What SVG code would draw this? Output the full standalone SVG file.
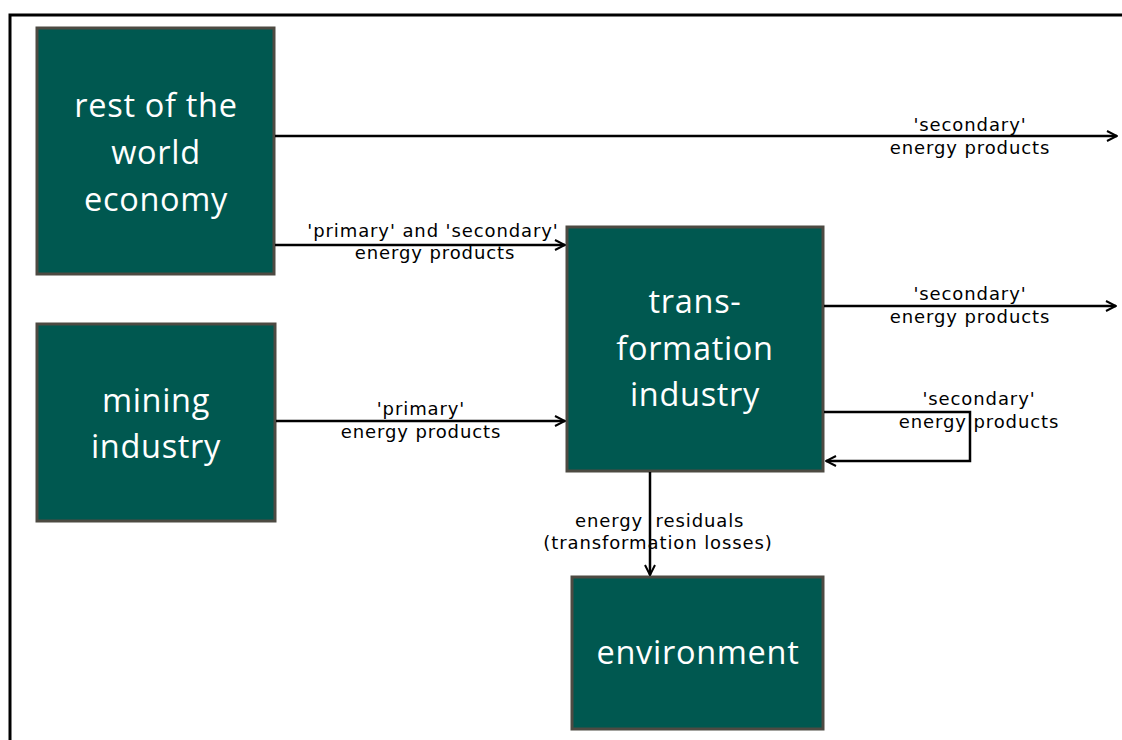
<svg xmlns="http://www.w3.org/2000/svg" width="1122" height="740" viewBox="0 0 1122 740">
<defs>
<style>
.box{fill:#005850;stroke:#4d4a42;stroke-width:3}
.big{font-family:"Open Sans","Liberation Sans",sans-serif;font-size:32.5px;letter-spacing:0.7px;fill:#ffffff;text-anchor:middle}
.lbl{font-family:"DejaVu Sans","Liberation Sans",sans-serif;font-size:18px;letter-spacing:0.9px;fill:#000000;text-anchor:middle}
.con{fill:none;stroke:#000;stroke-width:2.5}
</style>
<marker id="arr" viewBox="0 0 12 12" refX="11" refY="6" markerWidth="12" markerHeight="12" markerUnits="userSpaceOnUse" orient="auto">
<path d="M1,1 L11,6 L1,11" fill="none" stroke="#000" stroke-width="2"/>
</marker>
</defs>
<rect width="1122" height="740" fill="#fff"/>
<path d="M10,740 V15 H1122" fill="none" stroke="#000" stroke-width="3"/>
<g id="node-rest">
<rect class="box" x="37" y="28" width="237" height="246"/>
<text class="big" x="156" y="117">rest of the</text>
<text class="big" x="156" y="164">world</text>
<text class="big" x="156" y="211">economy</text>
</g>
<g id="node-mining">
<rect class="box" x="37" y="324" width="238" height="197"/>
<text class="big" x="156" y="412">mining</text>
<text class="big" x="156" y="458">industry</text>
</g>
<g id="node-transformation">
<rect class="box" x="567" y="227" width="256" height="244"/>
<text class="big" x="695" y="313">trans-</text>
<text class="big" x="695" y="360">formation</text>
<text class="big" x="695" y="406">industry</text>
</g>
<g id="node-environment">
<rect class="box" x="572" y="577" width="251" height="152"/>
<text class="big" x="698" y="664">environment</text>
</g>
<g id="connectors">
<line class="con" x1="275" y1="136" x2="1117" y2="136" marker-end="url(#arr)"/>
<line class="con" x1="275" y1="245" x2="565" y2="245" marker-end="url(#arr)"/>
<line class="con" x1="276" y1="421" x2="565" y2="421" marker-end="url(#arr)"/>
<line class="con" x1="824" y1="306" x2="1116" y2="306" marker-end="url(#arr)"/>
<polyline class="con" points="824,412 970,412 970,461 826,461" marker-end="url(#arr)"/>
<line class="con" x1="650" y1="472" x2="650" y2="575" marker-end="url(#arr)"/>
<text class="lbl" x="970" y="131">'secondary'</text>
<text class="lbl" x="970" y="154">energy products</text>
<text class="lbl" x="433" y="237">'primary' and 'secondary'</text>
<text class="lbl" x="435" y="259">energy products</text>
<text class="lbl" x="421" y="415">'primary'</text>
<text class="lbl" x="421" y="438">energy products</text>
<text class="lbl" x="970" y="300">'secondary'</text>
<text class="lbl" x="970" y="323">energy products</text>
<text class="lbl" x="979" y="405">'secondary'</text>
<text class="lbl" x="979" y="428">energy products</text>
<text class="lbl" x="659" y="527"><tspan x="609">energy</tspan><tspan x="700">residuals</tspan></text>
<text class="lbl" x="658" y="549">(transformation losses)</text>
</g>
</svg>
